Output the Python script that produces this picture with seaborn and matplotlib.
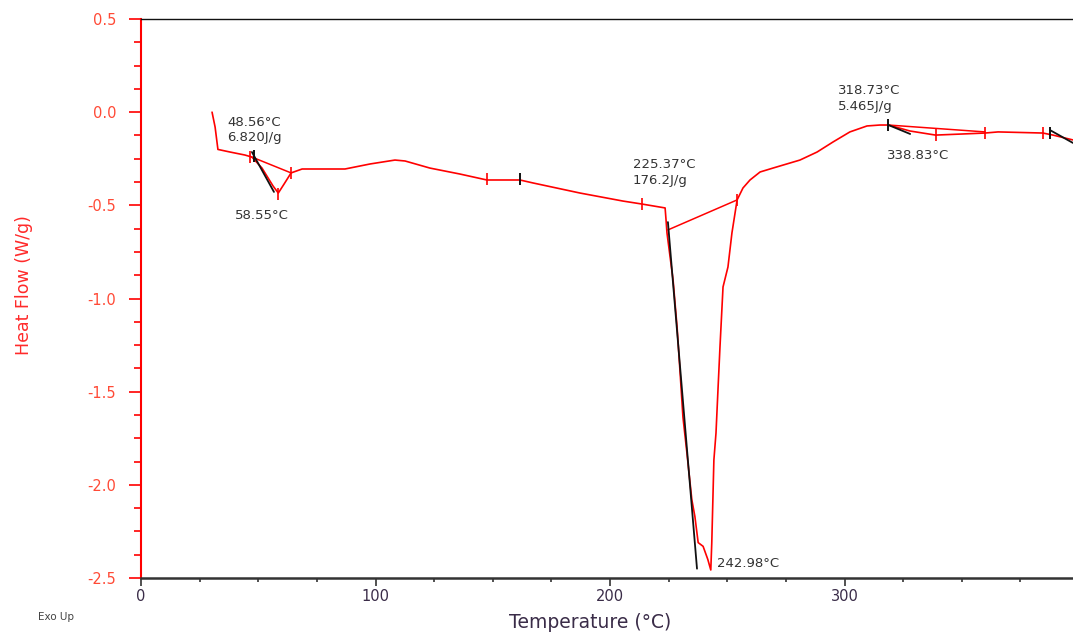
import matplotlib
matplotlib.use("Agg")
import matplotlib.pyplot as plt
from matplotlib.ticker import MultipleLocator, FixedLocator
import numpy as np
import pandas as pd
import seaborn as sns

# DSC scan: temperature (°C) and heat flow (W/g), exo up
temperature = [
    30.3, 31.6, 32.8, 38.0, 44.3, 47.3, 51.6, 56.3, 58.55, 61.0, 64.0, 68.7,
    87.0, 97.7, 108.3, 112.6, 123.2, 136.0, 147.5, 161.6, 167.2, 187.2, 205.5,
    213.6, 223.5, 223.9, 224.3, 226.9, 228.6, 229.9, 231.1, 232.8, 234.9, 236.2,
    237.6, 239.7, 241.7, 242.98, 243.4, 243.9, 244.3, 245.2, 246.1, 246.9,
    248.2, 250.3, 252.0, 254.2, 256.7, 259.7, 264.0, 269.5, 281.0, 288.3,
    295.1, 302.3, 309.6, 315.1, 318.73, 327.9, 338.83, 350.5, 359.9, 365.5,
    384.6, 388.9, 397.4,
]
heat_flow = [
    0.00, -0.08, -0.20, -0.214, -0.230, -0.241, -0.300, -0.396, -0.434, -0.386,
    -0.326, -0.305, -0.305, -0.278, -0.257, -0.262, -0.300, -0.332, -0.364,
    -0.364, -0.380, -0.434, -0.477, -0.493, -0.514, -0.579, -0.648, -0.901,
    -1.153, -1.400, -1.636, -1.829, -2.080, -2.170, -2.310, -2.330, -2.400,
    -2.457, -2.312, -2.065, -1.867, -1.722, -1.475, -1.260, -0.938, -0.831,
    -0.648, -0.471, -0.407, -0.364, -0.321, -0.300, -0.257, -0.214, -0.160,
    -0.106, -0.074, -0.069, -0.069, -0.101, -0.123, -0.117, -0.112, -0.106,
    -0.112, -0.123, -0.149,
]

# integration baselines (start/end points)
baseline_x = [[47.3, 64.0], [224.7, 254.2], [318.73, 359.9]]
baseline_y = [[-0.241, -0.326], [-0.632, -0.471], [-0.069, -0.106]]

# onset tangents
tangent_x = [[47.3, 56.7], [224.7, 237.1], [318.73, 328.0], [387.6, 397.4]]
tangent_y = [[-0.214, -0.428], [-0.590, -2.450], [-0.069, -0.117], [-0.096, -0.165]]

# analysis limit markers
red_mark_x = [46.5, 58.55, 64.0, 147.5, 213.6, 254.2, 338.83, 359.9, 384.6]
red_mark_y = [-0.24, -0.44, -0.326, -0.36, -0.493, -0.471, -0.123, -0.112, -0.112]
black_mark_x = [48.0, 161.6, 318.73, 387.6]
black_mark_y = [-0.235, -0.358, -0.069, -0.110]

# peak annotations
note_text = ["48.56°C\n6.820J/g", "58.55°C", "225.37°C\n176.2J/g",
             "242.98°C", "318.73°C\n5.465J/g", "338.83°C"]
note_x = [36.7, 40.1, 209.8, 245.6, 297.2, 318.1]
note_y = [-0.096, -0.557, -0.324, -2.420, 0.073, -0.235]

y_ticks = [0.5, 0.0, -0.5, -1.0, -1.5, -2.0, -2.5]
y_tick_labels = ["0.5", "0.0", "-0.5", "-1.0", "-1.5", "-2.0", "-2.5"]
x_ticks = [0, 100, 200, 300]
x_tick_labels = ["0", "100", "200", "300"]

sns.set_style("white")
plt.rcParams["font.family"] = ["DejaVu Sans"]

fig = plt.figure(figsize=(10.73, 6.32), dpi=100)
ax = fig.add_axes([141 / 1073, 54 / 632, 932 / 1073, 559 / 632])

df = pd.DataFrame({"temperature": temperature, "heat_flow": heat_flow})
sns.lineplot(data=df, x="temperature", y="heat_flow", sort=False,
             estimator=None, color="#ff0000", lw=1.2, ax=ax)

for bx, by in zip(baseline_x, baseline_y):
    ax.plot(bx, by, color="#ff0000", lw=1.1)
for tx, ty in zip(tangent_x, tangent_y):
    ax.plot(tx, ty, color="#111111", lw=1.3)

ax.plot(red_mark_x, red_mark_y, ls="none", marker="|", ms=9, mew=1.2,
        color="#ff0000")
ax.plot(black_mark_x, black_mark_y, ls="none", marker="|", ms=9, mew=1.4,
        color="#111111")

for txt, tx, ty in zip(note_text, note_x, note_y):
    ax.text(tx, ty, txt, fontsize=9.5, color="#333333", ha="left",
            va="center", linespacing=1.25)

ax.set_xlim(0, 932 / 2.345)
ax.set_ylim(-2.5, 0.5)

ax.xaxis.set_major_locator(FixedLocator(x_ticks))
ax.set_xticklabels(x_tick_labels)
ax.xaxis.set_minor_locator(MultipleLocator(25))
ax.yaxis.set_major_locator(FixedLocator(y_ticks))
ax.set_yticklabels(y_tick_labels)
ax.yaxis.set_minor_locator(MultipleLocator(0.125))

ax.tick_params(axis="x", which="major", direction="out", length=6, width=1.2,
               color="#333333", labelsize=10.5, labelcolor="#3a2c48", pad=2,
               bottom=True)
ax.tick_params(axis="x", which="minor", direction="out", length=3, width=1.2,
               color="#333333", bottom=True)
ax.tick_params(axis="y", which="major", direction="out", length=9, width=1.2,
               color="#ff0000", labelsize=10.5, labelcolor="#ff4a36", pad=9,
               left=True)
ax.tick_params(axis="y", which="minor", direction="out", length=5, width=1.2,
               color="#ff0000", left=True)

ax.spines["left"].set_color("#ff0000")
ax.spines["left"].set_linewidth(1.5)
ax.spines["bottom"].set_color("#333333")
ax.spines["bottom"].set_linewidth(1.8)
ax.spines["top"].set_color("#111111")
ax.spines["top"].set_linewidth(1.0)
ax.spines["right"].set_visible(False)

ax.set_xlabel("Temperature (°C)", fontsize=13.5, color="#3a2c48")
ax.xaxis.set_label_coords(0.4818, -0.063)
ax.set_ylabel("Heat Flow (W/g)", fontsize=12.5, color="#ff2a2a")
ax.yaxis.set_label_coords(-0.116, 0.524)

fig.text(38 / 1073, 1 - 617 / 632, "Exo Up", fontsize=7.5, color="#444444",
         ha="left", va="center")

fig.savefig("out.png", dpi=100)
